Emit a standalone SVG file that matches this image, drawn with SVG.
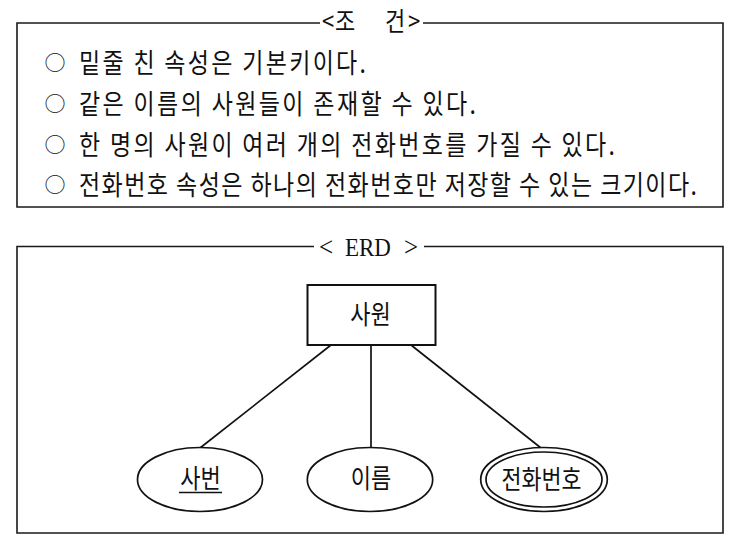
<svg xmlns="http://www.w3.org/2000/svg" width="740" height="550" viewBox="0 0 740 550">
  <style>
    .frame { fill: none; stroke: #1a1a1a; stroke-width: 1.6; }
    .kr { font-family: "Noto Sans CJK KR", "Noto Sans", sans-serif; fill: #111; }
    .serif { font-family: "Liberation Serif", "DejaVu Serif", serif; fill: #111; }
    .cond { font-size: 23px; }
    .bullet { font-size: 21px; text-anchor: middle; }
    .node { fill: #fff; stroke: #111; stroke-width: 2; }
    .attr { fill: #fff; stroke: #111; stroke-width: 1.7; }
    .edge { stroke: #111; stroke-width: 1.7; fill: none; }
    .lbl { font-size: 22px; text-anchor: middle; }
  </style>
  <rect width="740" height="550" fill="#fff"/>

  <g id="conditions">
    <polyline class="frame" points="320,23 17,23 17,207 723,207 723,23 423,23"/>
    <text class="kr" font-size="22" transform="translate(0,30.5) scale(1,1.2)"><tspan x="322">&lt;</tspan><tspan x="335">조</tspan><tspan x="385">건</tspan><tspan x="408">&gt;</tspan></text>
    <text class="kr bullet" x="55" y="69.5">○</text>
    <text class="kr cond" transform="translate(79,72.5) scale(1,1.18)" textLength="287" lengthAdjust="spacing">밑줄 친 속성은 기본키이다.</text>
    <text class="kr bullet" x="55" y="110.7">○</text>
    <text class="kr cond" transform="translate(79,113.5) scale(1,1.18)" textLength="397" lengthAdjust="spacing">같은 이름의 사원들이 존재할 수 있다.</text>
    <text class="kr bullet" x="55" y="152">○</text>
    <text class="kr cond" transform="translate(79,154.5) scale(1,1.18)" textLength="536" lengthAdjust="spacing">한 명의 사원이 여러 개의 전화번호를 가질 수 있다.</text>
    <text class="kr bullet" x="55" y="192.3">○</text>
    <text class="kr cond" transform="translate(79,195) scale(1,1.18)" textLength="618" lengthAdjust="spacing">전화번호 속성은 하나의 전화번호만 저장할 수 있는 크기이다.</text>
  </g>

  <g id="erd-frame">
    <polyline class="frame" points="314,246.5 17,246.5 17,533 723,533 723,246.5 424,246.5"/>
    <text class="serif" font-size="23" transform="translate(0,255.5) scale(1,1.12)"><tspan x="319" font-size="25">&lt;</tspan><tspan x="345">ERD</tspan><tspan x="404" font-size="25">&gt;</tspan></text>
  </g>

  <g id="connectors">
    <line class="edge" x1="331" y1="345" x2="200" y2="448"/>
    <line class="edge" x1="371" y1="345" x2="371" y2="447"/>
    <line class="edge" x1="411" y1="345" x2="541" y2="448"/>
  </g>

  <g id="node-employee">
    <rect class="node" x="307.5" y="285" width="128" height="60"/>
    <text class="kr lbl" transform="translate(370.5,324) scale(1,1.2)">사원</text>
  </g>

  <g id="node-empno">
    <ellipse class="attr" cx="200" cy="479.5" rx="62.5" ry="32"/>
    <text class="kr lbl" transform="translate(200.5,487.5) scale(1,1.2)">사번</text>
    <line x1="179" y1="492.5" x2="222" y2="492.5" stroke="#111" stroke-width="1.3"/>
  </g>

  <g id="node-name">
    <ellipse class="attr" cx="370" cy="479.5" rx="62.7" ry="32"/>
    <text class="kr lbl" transform="translate(371,487.5) scale(1,1.2)">이름</text>
  </g>

  <g id="node-phone">
    <ellipse class="attr" cx="544" cy="479.5" rx="63.3" ry="32"/>
    <ellipse class="attr" cx="544" cy="479.5" rx="58" ry="27.5"/>
    <text class="kr lbl" transform="translate(541.5,489) scale(1,1.2)" textLength="80" lengthAdjust="spacingAndGlyphs">전화번호</text>
  </g>
</svg>
